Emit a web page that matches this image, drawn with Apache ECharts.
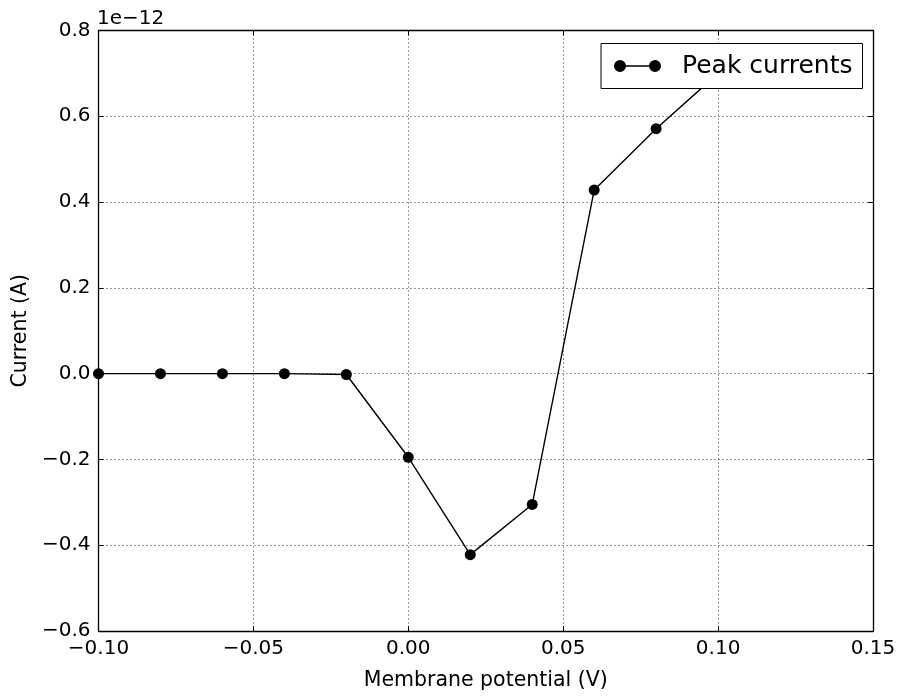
<!DOCTYPE html>
<html>
<head>
<meta charset="utf-8">
<script src="https://cdn.jsdelivr.net/npm/echarts@6/dist/echarts.min.js"></script>
<style>
html,body{margin:0;padding:0;background:#fff;}
#chart{width:899px;height:696px;}
</style>
</head>
<body>
<div id="chart"></div>
<script>
const voltages = [-0.10, -0.08, -0.06, -0.04, -0.02, 0.00, 0.02, 0.04, 0.06, 0.08, 0.10];
const peakCurrents = [0.0, 0.0, 0.0, 0.0, -0.002, -0.195, -0.422, -0.305, 0.428, 0.571, 0.70];
const xTicks = [-0.10, -0.05, 0.00, 0.05, 0.10, 0.15];
const yTicks = [-0.6, -0.4, -0.2, 0.0, 0.2, 0.4, 0.6, 0.8];
const seriesName = 'Peak currents';
const yScaleLabel = '1e\u221212';

const FONT = 'DejaVu Sans';
const fmt = (v, d) => { const s = Math.abs(v).toFixed(d); return (v < -1e-9 ? '\u2212' : '') + s; };

const chart = echarts.init(document.getElementById('chart'), null, {renderer: 'canvas'});
const tickCommon = {show: true, inside: true, length: 5, lineStyle: {color: '#000', width: 1}};
const lineCommon = {show: true, onZero: false, lineStyle: {color: '#000', width: 1.3}};
const gridLine = {show: true, lineStyle: {color: '#000', width: 1, type: [1, 3], opacity: 0.8}};

chart.setOption({
  animation: false,
  backgroundColor: '#fff',
  title: {
    text: yScaleLabel, left: 97, top: 8.5, padding: 0,
    textStyle: {fontFamily: FONT, fontSize: 20, fontWeight: 'normal', color: '#000'}
  },
  grid: {left: 98.5, top: 30.5, right: 26, bottom: 65, containLabel: false},
  legend: {
    show: true,
    data: [{name: seriesName, icon: 'path://M0,6 A6,6 0 1,1 12,6 A6,6 0 1,1 0,6 Z M35,6 A6,6 0 1,1 47,6 A6,6 0 1,1 35,6 Z M6,5.3 L41,5.3 L41,6.7 L6,6.7 Z'}],
    left: 601, top: 43.5,
    orient: 'horizontal',
    padding: [10, 10, 10, 13],
    itemWidth: 47, itemHeight: 12, itemGap: 10,
    backgroundColor: '#fff',
    borderColor: '#000', borderWidth: 1, borderRadius: 0,
    textStyle: {fontFamily: FONT, fontSize: 25, color: '#000', lineHeight: 24, padding: [0, 0, 0, 16]},
    itemStyle: {color: '#000'},
    z: 10
  },
  xAxis: [{
    type: 'value', min: -0.1, max: 0.15, interval: 0.05, position: 'bottom',
    name: 'Membrane potential (V)', nameLocation: 'middle', nameGap: 39,
    nameTextStyle: {fontFamily: FONT, fontSize: 20.5, color: '#000'},
    axisLine: lineCommon, axisTick: tickCommon,
    axisLabel: {show: true, margin: 8, fontFamily: FONT, fontSize: 20, color: '#000',
      formatter: v => fmt(v, 2)},
    splitLine: gridLine
  }, {
    type: 'value', min: -0.1, max: 0.15, interval: 0.05, position: 'top',
    axisLine: lineCommon, axisTick: tickCommon, axisLabel: {show: false}, splitLine: {show: false}
  }],
  yAxis: [{
    type: 'value', min: -0.6, max: 0.8, interval: 0.2, position: 'left',
    name: 'Current (A)', nameLocation: 'middle', nameGap: 63, nameRotate: 90,
    nameTextStyle: {fontFamily: FONT, fontSize: 20.5, color: '#000'},
    axisLine: lineCommon, axisTick: tickCommon,
    axisLabel: {show: true, margin: 8, fontFamily: FONT, fontSize: 20, color: '#000',
      formatter: v => fmt(v, 1)},
    splitLine: gridLine
  }, {
    type: 'value', min: -0.6, max: 0.8, interval: 0.2, position: 'right',
    axisLine: lineCommon, axisTick: tickCommon, axisLabel: {show: false}, splitLine: {show: false}
  }],
  series: [{
    name: seriesName, type: 'line',
    xAxisIndex: 0, yAxisIndex: 0,
    data: voltages.map((v, i) => [v, peakCurrents[i]]),
    symbol: 'circle', symbolSize: 11, showSymbol: true,
    lineStyle: {color: '#000', width: 1.4},
    itemStyle: {color: '#000', borderWidth: 0},
    clip: true, z: 3
  }]
});
</script>
</body>
</html>
